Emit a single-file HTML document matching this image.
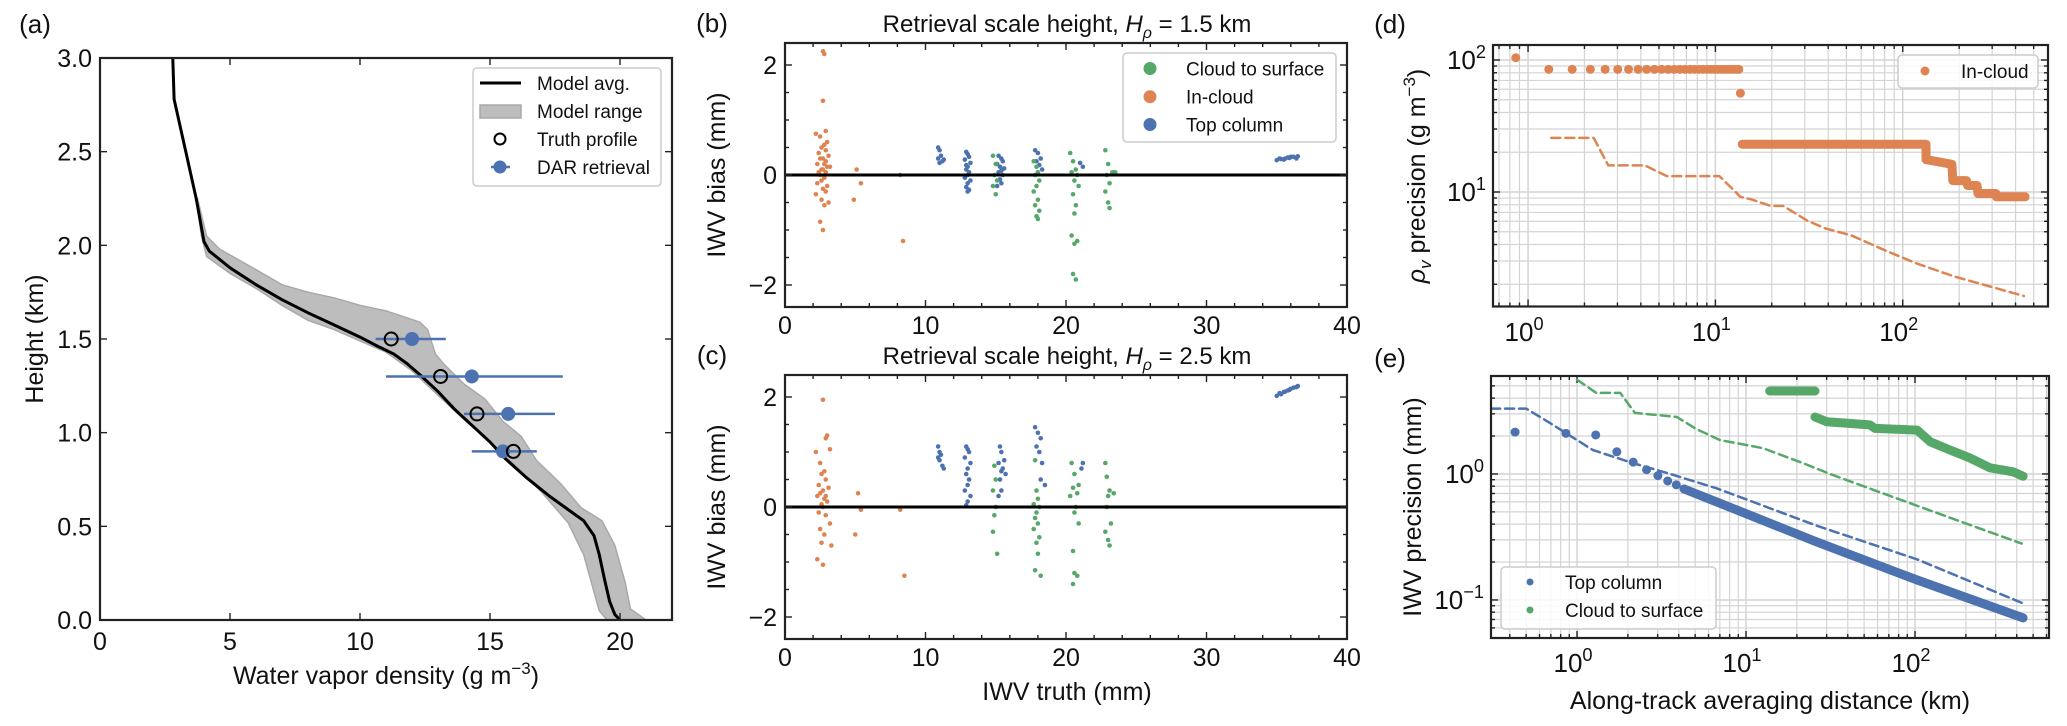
<!DOCTYPE html>
<html><head><meta charset="utf-8"><style>
html,body{margin:0;padding:0;background:#fff;}
svg{display:block;font-family:"Liberation Sans",Arial,sans-serif;}
</style></head><body>
<svg id="fig" width="2067" height="726" viewBox="0 0 2067 726" xmlns="http://www.w3.org/2000/svg"></svg>
<script>
// ---------- Panel (a) data ----------
const aAvgX=[2.8,2.85,3.3,3.7,4.0,4.2,5,6,7,8,9,10,10.7,11.3,11.8,12.3,13,13.6,14.3,15,15.6,16.4,17.3,18.0,18.6,19.0,19.2,19.4,19.6,19.8,20];
const aAvgH=[3.0,2.78,2.5,2.25,2.02,1.97,1.88,1.79,1.71,1.64,1.575,1.51,1.46,1.42,1.37,1.31,1.22,1.13,1.04,0.95,0.86,0.76,0.66,0.59,0.53,0.45,0.35,0.22,0.1,0.03,0.0];
const aLoX=[3.7,3.9,4.1,5,6,7,8,9,10,11,12,13,14,15,16,17,18,18.6,18.9,19.2,19.5];
const aLoH=[2.25,2.05,1.94,1.85,1.77,1.68,1.6,1.55,1.49,1.43,1.33,1.2,1.07,0.95,0.82,0.68,0.52,0.35,0.2,0.05,0.0];
const aHiX=[3.75,4.1,4.6,6,7,8,9,10,11,12.3,12.6,12.9,13.2,14,14.8,15.5,16.2,16.8,17.7,18.5,19.3,19.8,20.2,20.4,21];
const aHiH=[2.25,2.05,1.98,1.87,1.79,1.75,1.72,1.68,1.65,1.59,1.55,1.42,1.37,1.26,1.18,1.06,0.98,0.85,0.73,0.6,0.53,0.4,0.2,0.06,0.0];
const aTruthX=[11.2,13.1,14.5,15.9];
const aTruthH=[1.5,1.3,1.1,0.9];
const aDarX=[12.0,14.3,15.7,15.5];
const aDarH=[1.5,1.3,1.1,0.9];
const aDarLo=[10.6,11.0,14.0,14.3];
const aDarHi=[13.3,17.8,17.5,16.8];
const aXTicks=[0,5,10,15,20];
const aYTicks=[0.0,0.5,1.0,1.5,2.0,2.5,3.0];

// ---------- Panel (b) data ----------
const bOrX=[2.7,2.8,2.7,2.9,2.2,2.5,3.0,2.8,2.6,2.9,2.4,3.1,2.7,2.5,2.9,2.3,2.8,3.0,2.6,2.7,2.4,2.9,3.2,2.5,2.8,2.6,2.3,3.0,2.7,2.9,2.2,2.6,2.8,3.1,2.5,2.7,5.1,5.4,4.9,8.4,8.2];
const bOrY=[2.25,2.2,1.35,0.8,0.75,0.7,0.6,0.55,0.5,0.45,0.4,0.35,0.3,0.3,0.25,0.2,0.2,0.15,0.1,0.1,0.05,0.05,0.15,0,-0.05,-0.1,-0.15,-0.2,-0.25,-0.3,-0.35,-0.45,-0.55,-0.5,-0.85,-1.0,0.1,-0.15,-0.45,-1.2,0];
const bBlX=[10.9,11.0,11.1,11.3,11.0,10.9,11.2, 12.9,13.0,13.1,12.8,13.2,13.0,12.9,13.1,13.0,12.8,13.2,13.0,12.9,13.1,13.0,12.9, 15.2,15.4,15.5,15.1,15.3,15.6,15.4,15.2,15.5,15.3,15.4,15.1, 17.8,18.0,18.2,17.9,18.1,18.3, 21.0,21.2, 35.0,35.3,35.6,35.9,36.2,36.5,35.2,35.8,36.4,35.5,36.0];
const bBlY=[0.5,0.45,0.35,0.28,0.22,0.3,0.25, 0.42,0.38,0.33,0.28,0.22,0.15,0.1,0.05,0,-0.05,-0.1,-0.15,-0.22,-0.27,-0.3,0.18, 0.35,0.3,0.25,0.2,0.15,0.12,0.08,0.05,0,-0.08,-0.15,-0.2, 0.45,0.4,0.3,0.25,0.18,0.1, 0.22,0.15, 0.27,0.29,0.3,0.31,0.33,0.34,0.3,0.32,0.3,0.28,0.33];
const bGrX=[14.8,15.0,14.9,15.1,14.8,15.0, 17.7,17.9,18.0,17.8,18.1,17.9,17.7,18.0,17.8,18.1,17.9,18.0, 20.3,20.5,20.7,20.4,20.8,20.6,20.9,20.5,20.7,20.6,20.4,20.8,20.6,20.5,20.7, 22.8,23.0,23.3,22.9,23.1,22.8,23.0,23.1,23.5];
const bGrY=[0.35,0.2,0,-0.1,-0.2,-0.35, 0.25,0.15,0.05,0,-0.1,-0.2,-0.3,-0.45,-0.55,-0.65,-0.75,-0.8, 0.4,0.25,0.1,0.05,0,-0.1,-0.2,-0.35,-0.55,-0.7,-1.1,-1.2,-1.25,-1.8,-1.9, 0.45,0.2,0.05,0,-0.15,-0.3,-0.5,-0.6,0.05];

// ---------- Panel (c) data ----------
const cOrX=[2.7,3.0,2.9,3.2,2.2,2.5,2.8,2.6,2.9,2.4,3.1,2.7,2.5,2.9,2.3,2.8,3.0,2.6,2.7,2.4,2.9,3.2,2.5,2.8,2.6,3.3,2.3,2.7,5.2,5.4,5.0,8.2,8.5];
const cOrY=[1.95,1.3,1.25,1.05,1.0,0.8,0.65,0.6,0.5,0.4,0.35,0.3,0.25,0.2,0.2,0.15,0.1,0.05,0,-0.1,-0.15,-0.3,-0.4,-0.5,-0.65,-0.7,-0.95,-1.05,0.25,-0.05,-0.5,-0.05,-1.25];
const cBlX=[10.9,11.0,11.1,10.9,11.0,11.2,11.3, 12.9,13.0,13.1,12.8,13.2,13.0,12.9,13.1,13.0,12.8,13.2,13.0,12.9, 15.3,15.4,15.6,15.2,15.5,15.4,15.7,15.3,15.4,15.2, 17.8,18.0,18.2,17.9,18.1,18.3,18.2,18.5, 21.2,21.1, 35.0,35.3,35.6,35.9,36.2,36.5,35.2,35.8,36.4,35.5,36.0];
const cBlY=[1.1,1.0,0.95,0.9,0.85,0.75,0.7, 1.1,1.05,1.0,0.9,0.8,0.7,0.6,0.5,0.4,0.3,0.2,0.1,0.03, 1.1,1.0,0.85,0.8,0.7,0.65,0.6,0.5,0.3,0.2, 1.45,1.35,1.25,1.1,1.0,0.8,0.5,0.4, 0.8,0.7, 2.02,2.05,2.1,2.13,2.17,2.2,2.07,2.12,2.18,2.09,2.15];
const cGrX=[14.9,15.0,14.8,15.0,14.9,14.8,15.1, 17.8,17.9,18.0,17.7,18.1,17.9,17.8,18.0,17.7,18.1,17.9,18.0,17.8,18.2, 20.4,20.6,20.9,20.5,20.8,20.3,20.7,20.6,20.9,20.5,20.6,20.8,20.5, 22.8,22.9,23.1,23.4,23.0,22.9,23.2,22.8,23.0,23.1];
const cGrY=[0.75,0.5,0.3,0,-0.15,-0.45,-0.85, 0.85,0.3,0.15,0.05,0,-0.1,-0.2,-0.3,-0.4,-0.55,-0.65,-0.85,-1.15,-1.25, 0.8,0.6,0.4,0.35,0.25,0.2,0,-0.1,-0.3,-0.8,-1.2,-1.25,-1.4, 0.8,0.55,0.3,0.25,0.2,0,-0.3,-0.45,-0.6,-0.7];
const bcXTicks=[0,10,20,30,40];
const bcYTicks=[-2,0,2];

// ---------- Panel (d) data ----------
const dDotX=[0.86,1.29,1.72,2.15,2.58,3.01,3.44,3.87,4.3,4.73,5.16,5.59,6.02,6.45,6.88,7.31,7.74,8.17,8.6,9.03,9.46,9.89,10.32,10.75,11.18,11.61,12.04,12.47,12.9,13.33,13.6];
const dDotY=[104,85,85,85,85,85,85,85,85,85,85,85,85,85,85,85,85,85,85,85,85,85,85,85,85,85,85,85,85,85,56];
const dBandX=[13.9,133,133,183,185,219,222,249,252,314,316,450];
const dBandY=[23,23,17.6,16.2,12.2,12.2,11.2,11.2,9.75,9.75,9.2,9.2];
const dDashX=[1.33,2.24,2.68,4.2,5.5,10.5,13.6,15.5,19.7,23,31,38.6,53,81,117,187,443];
const dDashY=[25.7,25.7,15.9,15.9,13.2,13.2,9.2,8.8,7.85,7.85,6.05,5.3,4.7,3.6,2.9,2.3,1.63];

// ---------- Panel (e) data ----------
const eBlDotX=[0.43,0.86,1.29,1.72,2.15,2.58,3.01,3.44,3.87,4.3];
const eBlDotY=[2.15,2.1,2.04,1.5,1.24,1.08,0.97,0.88,0.82,0.76];
const eBlBandX=[4.3,6.7,26,103,436];
const eBlBandY=[0.76,0.6,0.29,0.144,0.072];
const eBlDashX=[0.31,0.5,0.69,1.24,2.14,3.4,6.7,26,103,428];
const eBlDashY=[3.3,3.3,2.54,1.55,1.22,1.02,0.77,0.39,0.21,0.095];
const eGrTopX=[13.8,25.6];
const eGrTopY=[4.55,4.55];
const eGrBandX=[25.6,30,54,58,103,123,161,211,278,380,436];
const eGrBandY=[2.83,2.6,2.45,2.3,2.23,1.8,1.55,1.34,1.12,1.04,0.96];
const eGrDashX=[1.0,1.3,1.8,2.2,3.9,5,7,12.6,21.7,32.7,65,161,428];
const eGrDashY=[5.6,4.4,4.4,3.05,2.83,2.3,1.86,1.6,1.22,0.98,0.7,0.45,0.28];

const BLUE="#4C72B0", ORANGE="#DD8452", GREEN="#55A868";
const NS="http://www.w3.org/2000/svg";
const svg=document.getElementById('fig');
function el(tag,attrs,parent,text){const e=document.createElementNS(NS,tag);for(const k in attrs)e.setAttribute(k,attrs[k]);if(text!==undefined)e.textContent=text;(parent||svg).appendChild(e);return e;}
function lin(d0,d1,r0,r1){return v=>r0+(v-d0)/(d1-d0)*(r1-r0);}
function lg(d0,d1,r0,r1){const a=Math.log10(d0),b=Math.log10(d1);return v=>r0+(Math.log10(v)-a)/(b-a)*(r1-r0);}
function pts(xs,ys,sx,sy){let s=[];for(let i=0;i<Math.min(xs.length,ys.length);i++)s.push(sx(xs[i]).toFixed(1)+","+sy(ys[i]).toFixed(1));return s.join(" ");}

function frame(g,x0,x1,y0,y1){const r=el('rect',{x:x0,y:y0,width:x1-x0,height:y1-y0,fill:'none',stroke:'#222','stroke-width':2.2},g);}
function tickX(g,px,y0,y1,len){el('line',{x1:px,x2:px,y1:y1,y2:y1-len,stroke:'#222','stroke-width':1.4},g);el('line',{x1:px,x2:px,y1:y0,y2:y0+len,stroke:'#222','stroke-width':1.4},g);}
function tickY(g,py,x0,x1,len){el('line',{x1:x0,x2:x0+len,y1:py,y2:py,stroke:'#222','stroke-width':1.4},g);el('line',{x1:x1,x2:x1-len,y1:py,y2:py,stroke:'#222','stroke-width':1.4},g);}
function fmtNum(v,d){const s=v.toFixed(d);return s.replace('-','\u2212');}
function label(g,x,y,txt,size,anchor,name,rot){const t=el('text',{x:x,y:y,'font-size':size,'text-anchor':anchor||'middle',fill:'#111'},g,txt);if(rot)t.setAttribute('transform','rotate(-90 '+x+' '+y+')');return t;}
function pow10(g,x,y,e,anchor,size){const t=el('text',{x:x,y:y,'font-size':size,'text-anchor':anchor,fill:'#111'},g);el('tspan',{},t,'10');el('tspan',{dy:-11,'font-size':size*0.7},t,e);return t;}

// ===== Panel (a) =====
(function(){
const g=el('g',{});
const X0=100,X1=672,Y0=58,Y1=620;
const sx=lin(0,22,X0,X1), sy=lin(0,3,Y1,Y0);
let poly=pts(aLoX,aLoH,sx,sy)+" "+pts(aHiX.slice().reverse(),aHiH.slice().reverse(),sx,sy);
const sh=el('polygon',{points:poly,fill:'#bdbdbd',stroke:'#a9a9a9','stroke-width':1.5},g);

const ln=el('polyline',{points:pts(aAvgX,aAvgH,sx,sy),fill:'none',stroke:'#000','stroke-width':3},g);

for(let i=0;i<aDarX.length;i++){
 const eb=el('line',{x1:sx(aDarLo[i]),x2:sx(aDarHi[i]),y1:sy(aDarH[i]),y2:sy(aDarH[i]),stroke:BLUE,'stroke-width':2.5},g);
 
 const c=el('circle',{cx:sx(aDarX[i]),cy:sy(aDarH[i]),r:7,fill:BLUE},g);
 
}
for(let i=0;i<aTruthX.length;i++){
 const c=el('circle',{cx:sx(aTruthX[i]),cy:sy(aTruthH[i]),r:6.5,fill:'none',stroke:'#000','stroke-width':2},g);
 
}
frame(g,X0,X1,Y0,Y1);
aXTicks.forEach(v=>{tickX(g,sx(v),Y0,Y1,7);label(g,sx(v),650,String(v),25,'middle','x-tick-label');});
aYTicks.forEach(v=>{tickY(g,sy(v),X0,X1,7);label(g,92,sy(v)+9,v.toFixed(1),25,'end','y-tick-label');});
const xt=label(g,386,684,'Water vapor density (g m',25,'middle','x-axis-title');
el('tspan',{dy:-10,'font-size':17},xt,'\u22123');el('tspan',{dy:10},xt,')');
label(g,43,339,'Height (km)',25,'middle','y-axis-title',true);
label(g,35,33,'(a)',26,'middle','panel-label-a');
// legend
const lg_=el('g',{},g);
el('rect',{x:473,y:68,width:188,height:118,rx:4,fill:'#fff','fill-opacity':0.85,stroke:'#ccc','stroke-width':1.5},lg_);
el('line',{x1:480,x2:521,y1:83,y2:83,stroke:'#000','stroke-width':3},lg_);
el('rect',{x:480,y:105,width:41,height:13,fill:'#bdbdbd',stroke:'#a9a9a9','stroke-width':1.5},lg_);
el('circle',{cx:500,cy:139,r:5.5,fill:'none',stroke:'#000','stroke-width':2},lg_);
el('line',{x1:491,x2:510,y1:167,y2:167,stroke:BLUE,'stroke-width':2.5},lg_);
el('circle',{cx:500,cy:167,r:6.5,fill:BLUE},lg_);
[['Model avg.',83],['Model range',111],['Truth profile',139],['DAR retrieval',167]].forEach(a=>label(lg_,537,a[1]+7,a[0],19,'start','legend-entry'));
})();

// ===== Panels (b),(c) =====
function scatterPanel(name,Y0,Y1,orX,orY,blX,blY,grX,grY,title,tl,hval,showXlabel,withLegend){
const g=el('g',{});
const X0=785,X1=1347;const sx=lin(0,40,X0,X1),sy=lin(-2.4,2.4,Y1,Y0);
function dots(xs,ys,col,nm){for(let i=0;i<Math.min(xs.length,ys.length);i++){const c=el('circle',{cx:sx(xs[i]),cy:sy(ys[i]),r:2.3,fill:col},g);}}
dots(orX,orY,ORANGE,'in-cloud-point');dots(blX,blY,BLUE,'top-column-point');dots(grX,grY,GREEN,'cloud-to-surface-point');
const z=el('line',{x1:X0,x2:X1,y1:sy(0),y2:sy(0),stroke:'#000','stroke-width':3},g);
frame(g,X0,X1,Y0,Y1);
for(let v=0;v<=40;v+=2){const p=sx(v);tickX(g,p,Y0,Y1,v%10===0?7:4);}
bcXTicks.forEach(v=>label(g,sx(v),Y1+27,String(v),25,'middle','x-tick-label'));
for(let v=-2;v<=2.01;v+=0.5){tickY(g,sy(v),X0,X1,Math.abs(v%2)<0.01?7:4);}
bcYTicks.forEach(v=>label(g,777,sy(v)+9,fmtNum(v,0),25,'end','y-tick-label'));
label(g,725,(Y0+Y1)/2,'IWV bias (mm)',25,'middle','y-axis-title',true);
const t=label(g,1067,Y0-11,'Retrieval scale height, ',24,'middle','panel-title');
el('tspan',{'font-style':'italic'},t,'H');el('tspan',{dy:6,'font-size':16,'font-style':'italic'},t,'\u03c1');el('tspan',{dy:-6},t,' = '+hval+' km');
label(g,712,Y0-11,tl,26,'middle','panel-label');
if(showXlabel)label(g,1067,700,'IWV truth (mm)',25,'middle','x-axis-title');
if(withLegend){const L=el('g',{},g);
 el('rect',{x:1123,y:53,width:213,height:89,rx:4,fill:'#fff','fill-opacity':0.85,stroke:'#ccc','stroke-width':1.5},L);
 [[GREEN,'Cloud to surface',68.5],[ORANGE,'In-cloud',96.7],[BLUE,'Top column',124.5]].forEach(a=>{el('circle',{cx:1150,cy:a[2],r:6.5,fill:a[0]},L);label(L,1186,a[2]+7,a[1],19,'start','legend-entry');});}
}
scatterPanel('panel-b',43,307,bOrX,bOrY,bBlX,bBlY,bGrX,bGrY,'','(b)','1.5',false,true);
scatterPanel('panel-c',375,639,cOrX,cOrY,cBlX,cBlY,cGrX,cGrY,'','(c)','2.5',true,false);

// ===== log panels =====
function logAxes(g,X0,X1,Y0,Y1,sx,sy,xd,yd,xdec,ydec,xLabY,yLabX){
 for(let e=xd[0];e<=xd[1];e++)for(let m=1;m<10;m++){const v=m*Math.pow(10,e);const p=sx(v);if(p<X0+0.5||p>X1-0.5)continue;el('line',{x1:p,x2:p,y1:Y0,y2:Y1,stroke:'#d4d4d4','stroke-width':m===1?1.5:1.2},g);}
 for(let e=yd[0];e<=yd[1];e++)for(let m=1;m<10;m++){const v=m*Math.pow(10,e);const p=sy(v);if(p<Y0+0.5||p>Y1-0.5)continue;el('line',{x1:X0,x2:X1,y1:p,y2:p,stroke:'#d4d4d4','stroke-width':m===1?1.5:1.2},g);}
 for(let e=xd[0];e<=xd[1];e++)for(let m=1;m<10;m++){const v=m*Math.pow(10,e);const p=sx(v);if(p<X0||p>X1)continue;tickX(g,p,Y0,Y1,m===1?7:4);}
 for(let e=yd[0];e<=yd[1];e++)for(let m=1;m<10;m++){const v=m*Math.pow(10,e);const p=sy(v);if(p<Y0||p>Y1)continue;tickY(g,p,X0,X1,m===1?7:4);}
 xdec.forEach(e=>pow10(g,sx(Math.pow(10,e))-4,xLabY,String(e).replace('-','\u2212'),'middle',26));
 ydec.forEach(e=>pow10(g,yLabX,sy(Math.pow(10,e))+9,String(e).replace('-','\u2212'),'end',26));
}
function pl(g,xs,ys,sx,sy,col,w,dash,nm){const p=el('polyline',{points:pts(xs,ys,sx,sy),fill:'none',stroke:col,'stroke-width':w,'stroke-linecap':'round','stroke-linejoin':'round'},g);if(dash)p.setAttribute('stroke-dasharray',dash);}
function dotsL(g,xs,ys,sx,sy,col,r,nm){for(let i=0;i<Math.min(xs.length,ys.length);i++){const c=el('circle',{cx:sx(xs[i]),cy:sy(ys[i]),r:r,fill:col},g);}}

(function(){
const g=el('g',{});
const X0=1493,X1=2048,Y0=45,Y1=306.5;
const sx=lg(0.650,596,X0,X1), sy=lg(129.9,1.357,Y0,Y1);
logAxes(g,X0,X1,Y0,Y1,sx,sy,[-1,2],[0,2],[0,1,2],[1,2],341,1486);
pl(g,dDashX,dDashY,sx,sy,ORANGE,2.5,'9,5','in-cloud-dashed');
pl(g,dBandX,dBandY,sx,sy,ORANGE,9,null,'in-cloud-dense');
dotsL(g,dDotX,dDotY,sx,sy,ORANGE,4.5,'in-cloud-point');
frame(g,X0,X1,Y0,Y1);
const yl=label(g,1425,176,'',25,'middle','y-axis-title',true);
el('tspan',{'font-style':'italic'},yl,'\u03c1');el('tspan',{dy:6,'font-size':17,'font-style':'italic'},yl,'v');el('tspan',{dy:-6},yl,' precision (g m');el('tspan',{dy:-10,'font-size':17},yl,'\u22123');el('tspan',{dy:10},yl,')');
label(g,1390,33,'(d)',26,'middle','panel-label-d');
const L=el('g',{},g);
el('rect',{x:1898,y:55,width:140,height:33,rx:4,fill:'#fff','fill-opacity':0.85,stroke:'#ccc','stroke-width':1.5},L);
el('circle',{cx:1925,cy:71,r:4.5,fill:ORANGE},L);label(L,1961,78,'In-cloud',19,'start','legend-entry');
})();

(function(){
const g=el('g',{});
const X0=1491,X1=2049,Y0=376,Y1=638;
const sx=lg(0.3097,620.7,X0,X1), sy=lg(5.99,0.0499,Y0,Y1);
logAxes(g,X0,X1,Y0,Y1,sx,sy,[-1,2],[-2,0],[0,1,2],[-1,0],672,1484);
pl(g,eGrDashX,eGrDashY,sx,sy,GREEN,2.5,'9,5','cloud-to-surface-dashed');
pl(g,eBlDashX,eBlDashY,sx,sy,BLUE,2.5,'9,5','top-column-dashed');
pl(g,eGrTopX,eGrTopY,sx,sy,GREEN,9,null,'cloud-to-surface-dense');
pl(g,eGrBandX,eGrBandY,sx,sy,GREEN,9,null,'cloud-to-surface-dense');
pl(g,eBlBandX,eBlBandY,sx,sy,BLUE,9,null,'top-column-dense');
dotsL(g,eBlDotX,eBlDotY,sx,sy,BLUE,4.5,'top-column-point');
frame(g,X0,X1,Y0,Y1);
label(g,1421,507,'IWV precision (mm)',25,'middle','y-axis-title',true);
label(g,1770,709,'Along-track averaging distance (km)',25,'middle','x-axis-title');
label(g,1390,367,'(e)',26,'middle','panel-label-e');
const L=el('g',{},g);
el('rect',{x:1501,y:567,width:215,height:62,rx:4,fill:'#fff','fill-opacity':0.85,stroke:'#ccc','stroke-width':1.5},L);
el('circle',{cx:1530,cy:582,r:3.5,fill:BLUE},L);label(L,1565,589,'Top column',19,'start','legend-entry');
el('circle',{cx:1530,cy:610,r:3.5,fill:GREEN},L);label(L,1565,617,'Cloud to surface',19,'start','legend-entry');
})();
</script>
</body></html>
